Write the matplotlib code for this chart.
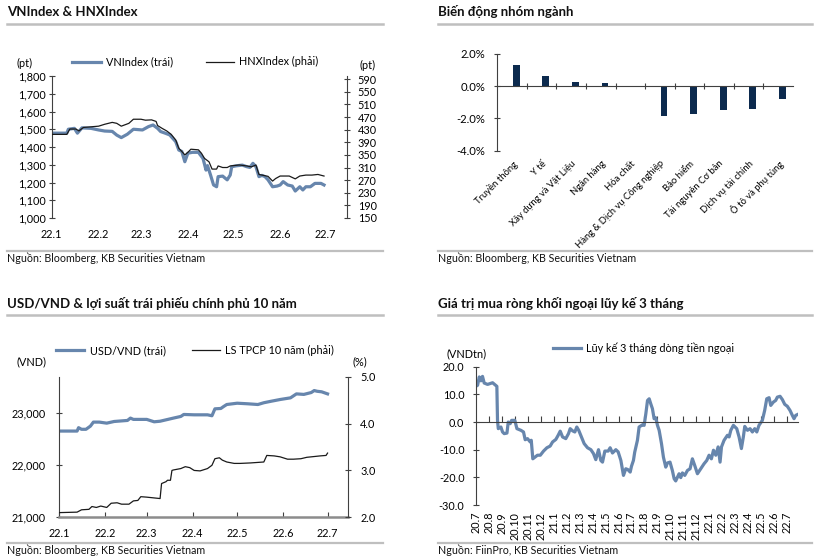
import datetime as dt
import numpy as np
import matplotlib
matplotlib.use("Agg")
import matplotlib.pyplot as plt
from matplotlib.lines import Line2D
from matplotlib.ticker import FuncFormatter

plt.rcParams['font.family'] = ['Lato', 'DejaVu Sans']

# ---------------- data ----------------
# VNIndex & HNXIndex (2022)
vn_dates = ['01-01', '01-11', '01-12', '01-16', '01-18', '01-21', '01-27', '02-01', '02-05',
            '02-10', '02-13', '02-16', '02-20', '02-24', '03-02', '03-06', '03-09', '03-12',
            '03-14', '03-17', '03-20', '03-24', '03-26', '03-28', '03-30', '04-01', '04-04',
            '04-08', '04-09', '04-11', '04-13', '04-14', '04-16', '04-18', '04-20', '04-21',
            '04-24', '04-27', '04-29', '04-30', '05-03', '05-07', '05-10', '05-12', '05-14',
            '05-16', '05-18', '05-20', '05-22', '05-24', '05-27', '05-30', '06-01', '06-03',
            '06-06', '06-09', '06-11', '06-14', '06-16', '06-18', '06-21', '06-24', '06-28',
            '06-30']
vn_values = [1478, 1478, 1500, 1505, 1478, 1508, 1505, 1496, 1490,
             1488, 1467, 1453, 1472, 1500, 1496, 1515, 1524, 1505,
             1487, 1478, 1468, 1430, 1383, 1375, 1317, 1365, 1370,
             1370, 1358, 1336, 1270, 1295, 1242, 1186, 1176, 1233,
             1236, 1215, 1242, 1289, 1294, 1298, 1289, 1285, 1308,
             1289, 1233, 1240, 1233, 1215, 1176, 1180, 1186, 1205,
             1186, 1180, 1152, 1176, 1158, 1176, 1176, 1195, 1195,
             1186]

hnx_dates = ['01-01', '01-11', '01-13', '01-17', '01-19', '01-22', '01-27', '02-01', '02-05',
             '02-10', '02-13', '02-16', '02-21', '02-24', '03-01', '03-04', '03-08', '03-11',
             '03-12', '03-15', '03-18', '03-21', '03-24', '03-26', '03-28', '03-30', '04-01',
             '04-03', '04-08', '04-10', '04-12', '04-15', '04-17', '04-20', '04-21', '04-24',
             '04-27', '04-29', '05-05', '05-10', '05-13', '05-16', '05-18', '05-21', '05-24',
             '05-27', '05-29', '06-01', '06-07', '06-11', '06-14', '06-18', '06-22', '06-26',
             '06-30']
hnx_values = [415, 415, 432, 432, 426, 437, 439, 441, 447,
              453, 450, 441, 450, 463, 463, 460, 461, 456,
              443, 434, 426, 415, 397, 371, 361, 350, 358,
              368, 366, 355, 339, 328, 305, 305, 315, 310,
              310, 315, 318, 315, 312, 318, 288, 285, 282,
              267, 275, 283, 283, 274, 283, 286, 286, 288,
              283]

# sector performance
sectors = ['Truyền thông', 'Y tế', 'Xây dựng và Vật Liệu', 'Ngân hàng', 'Hóa chất',
           'Hàng & Dịch vụ Công nghiệp', 'Bảo hiểm', 'Tài nguyên Cơ bản',
           'Dịch vụ tài chính', 'Ô tô và phụ tùng']
sector_change = [1.31, 0.64, 0.25, 0.19, 0.0, -1.87, -1.70, -1.49, -1.39, -0.81]

# USD/VND & 10Y government bond yield (2022)
usd_dates = ['01-01', '01-13', '01-14', '01-16', '01-19', '01-22', '01-24', '01-28', '02-02',
             '02-07', '02-16', '02-18', '02-20', '03-01', '03-06', '03-10', '03-19', '03-24',
             '03-26', '04-02', '04-11', '04-14', '04-16', '04-20', '04-22', '04-24', '05-01',
             '05-08', '05-15', '05-19', '05-24', '05-30', '06-06', '06-10', '06-15', '06-20',
             '06-22', '06-24', '06-27', '07-01']
usd_values = [22656, 22656, 22721, 22690, 22690, 22751, 22828, 22828, 22808,
              22840, 22860, 22905, 22880, 22880, 22834, 22845, 22905, 22937,
              22975, 22968, 22968, 22950, 23083, 23090, 23130, 23166, 23191,
              23180, 23166, 23200, 23229, 23262, 23294, 23370, 23360, 23396,
              23434, 23420, 23410, 23370]

bond_dates = ['01-01', '01-13', '01-16', '01-21', '01-23', '01-26', '01-29', '02-02', '02-05',
              '02-09', '02-12', '02-17', '02-20', '02-23', '02-25', '03-01', '03-10', '03-11',
              '03-14', '03-15', '03-17', '03-18', '03-19', '03-24', '03-27', '03-30', '04-02',
              '04-06', '04-11', '04-14', '04-16', '04-19', '04-21', '04-24', '04-29', '05-03',
              '05-10', '05-19', '05-21', '05-26', '05-30', '06-04', '06-08', '06-13', '06-17',
              '06-26', '06-30', '07-01']
bond_values = [2.10, 2.11, 2.16, 2.17, 2.23, 2.21, 2.24, 2.21, 2.30,
               2.31, 2.28, 2.28, 2.35, 2.36, 2.44, 2.43, 2.40, 2.72,
               2.76, 2.79, 2.79, 3.00, 3.01, 3.04, 3.08, 3.06, 3.00,
               2.99, 3.04, 3.11, 3.25, 3.27, 3.22, 3.18, 3.15, 3.15,
               3.16, 3.18, 3.32, 3.31, 3.29, 3.24, 3.24, 3.25, 3.28,
               3.31, 3.32, 3.37]

# foreign net buying, 3-month cumulative (months since Jul 2020)
flow_month = [0.0, 0.10, 0.23, 0.36, 0.48, 0.61, 0.87, 1.26, 1.59, 1.64, 1.70, 1.90, 2.03, 2.16,
              2.37, 2.47, 2.62, 2.73, 2.98, 3.14, 3.45, 3.65, 3.78, 3.96, 4.17, 4.25, 4.37,
              4.53, 4.73, 4.95, 5.20, 5.46, 5.71, 5.90, 6.15, 6.33, 6.49, 6.67, 6.92, 7.13,
              7.26, 7.45, 7.62, 7.77, 7.92, 8.08, 8.34, 8.60, 8.86, 9.06, 9.24, 9.45, 9.63,
              9.76, 9.94, 10.20, 10.35, 10.53, 10.79, 10.97, 11.18, 11.38, 11.56, 11.72, 11.90,
              12.00, 12.15, 12.25, 12.46, 12.59, 12.85, 12.98, 13.11, 13.24, 13.37, 13.49,
              13.62, 13.75, 13.88, 14.01, 14.14, 14.32, 14.47, 14.65, 14.78, 14.98, 15.16,
              15.30, 15.42, 15.68, 15.81, 15.94, 16.12, 16.33, 16.53, 16.71, 16.89, 17.10,
              17.36, 17.61, 17.82, 18.00, 18.18, 18.34, 18.52, 18.70, 18.85, 18.96, 19.16,
              19.42, 19.55, 19.68, 19.88, 20.14, 20.32, 20.50, 20.65, 20.76, 20.97, 21.17,
              21.35, 21.53, 21.69, 21.86, 22.12, 22.30, 22.46, 22.64, 22.77, 22.97, 23.15,
              23.28, 23.49, 23.67, 23.85, 24.05, 24.26, 24.44, 24.57, 24.70, 24.88]
flow_value = [13.0, 13.3, 16.3, 14.9, 16.5, 14.1, 13.6, 14.2, 12.9, 0.6, -2.4, -1.8, -3.6, -4.2,
              -4.0, 0.0, -0.6, 0.6, 0.6, -2.4, -3.0, -3.6, -6.4, -6.0, -7.2, -6.6, -13.3,
              -12.7, -12.0, -12.0, -10.5, -9.3, -8.7, -7.2, -6.3, -4.8, -3.3, -5.4, -6.0, -4.2,
              -2.4, -3.2, -3.6, -1.8, -3.0, -4.8, -7.8, -9.3, -10.0, -11.4, -13.6, -10.0, -13.9,
              -14.5, -10.5, -10.5, -9.3, -11.2, -10.0, -10.8, -13.9, -19.3, -16.9, -17.2, -18.1,
              -16.0, -13.9, -10.9, -6.6, -1.8, -1.0, -1.2, 3.0, 7.8, 8.4, 6.6,
              4.8, 1.2, 1.5, -1.2, -3.0, -7.8, -12.7, -16.3, -14.8, -14.5, -17.5,
              -20.5, -21.3, -18.7, -20.1, -18.4, -19.3, -17.5, -16.9, -13.3, -15.7, -18.7,
              -16.9, -15.1, -13.9, -12.0, -13.3, -10.2, -12.0, -9.0, -14.5, -9.0, -6.6,
              -4.8, -5.4, -3.0, -1.2, -2.4, -5.4, -9.6, -5.4, -1.6, -3.0, -2.4,
              -3.6, -2.4, -3.6, -1.2, 0.6, 4.2, 8.4, 8.8, 6.0, 7.2, 7.8,
              9.0, 9.3, 8.1, 6.4, 5.7, 4.2, 2.4, 1.2, 2.4, 2.8]
flow_labels = ['20.7', '20.8', '20.9', '20.10', '20.11', '20.12', '21.1', '21.2', '21.3', '21.4',
               '21.5', '21.6', '21.7', '21.8', '21.9', '21.10', '21.11', '21.12', '22.1', '22.2',
               '22.3', '22.4', '22.5', '22.6', '22.7']

month_labels = ['22.1', '22.2', '22.3', '22.4', '22.5', '22.6', '22.7']

# ---------------- style ----------------
BLUE = '#6786ad'
NAVY = '#0c2a4e'
DARK = '#1a1a1a'
SPINE = '#404040'
RULE = '#bfbfbf'
W, H = 826, 558


def to_date(s):
    m, d = s.split('-')
    return dt.date(2022, int(m), int(d))


def axes_px(fig, x0, y0, x1, y1):
    return fig.add_axes([x0 / W, 1 - y1 / H, (x1 - x0) / W, (y1 - y0) / H])


def hrule(fig, x0, x1, y, lw=1.6):
    fig.add_artist(Line2D([x0 / W, x1 / W], [1 - y / H, 1 - y / H],
                          transform=fig.transFigure, color=RULE, lw=lw))


def ftext(fig, x, y, s, **kw):
    fig.text(x / W, 1 - y / H, s, **kw)


fig = plt.figure(figsize=(W / 100, H / 100), dpi=100)

# titles, rules and sources
for x0, y, title in [(7, 12, 'VNIndex & HNXIndex'), (438, 12, 'Biến động nhóm ngành'),
                     (7, 304, 'USD/VND & lợi suất trái phiếu chính phủ 10 năm'),
                     (438, 304, 'Giá trị mua ròng khối ngoại lũy kế 3 tháng')]:
    ftext(fig, x0, y, title, fontsize=9.5, fontweight='bold', va='center', color='#111111')
for x0, x1, y in [(7, 383, 24), (438, 812, 24), (7, 383, 315), (438, 812, 315)]:
    hrule(fig, x0, x1, y, lw=1.8)
for x0, x1, y in [(7, 383, 250.5), (438, 812, 250.5), (7, 383, 542.5), (438, 812, 542.5)]:
    hrule(fig, x0, x1, y, lw=1.6)
for x0, y, src in [(7, 258.5, 'Nguồn: Bloomberg, KB Securities Vietnam'),
                   (438, 258.5, 'Nguồn: Bloomberg, KB Securities Vietnam'),
                   (7, 550, 'Nguồn: Bloomberg, KB Securities Vietnam'),
                   (438, 550, 'Nguồn: FiinPro, KB Securities Vietnam')]:
    ftext(fig, x0, y, src, fontsize=7.7, va='center', color='#111111')

start = dt.date(2022, 1, 1)
month_ticks = [dt.date(2022, m, 1) for m in range(1, 8)]
xlim = (start, start + dt.timedelta(days=195))
thousands = FuncFormatter(lambda v, p: f'{v:,.0f}')
TS = 7.8

# ---- panel 1: VNIndex & HNXIndex ----
ax1 = axes_px(fig, 51.7, 76, 346.7, 218)
ax1.plot([to_date(d) for d in vn_dates], vn_values, color=BLUE, lw=2.3, label='VNIndex (trái)')
ax1.set_ylim(1000, 1800)
ax1.set_yticks(range(1000, 1801, 100))
ax1.yaxis.set_major_formatter(thousands)
ax1.set_xlim(*xlim)
ax1.set_xticks(month_ticks)
ax1.set_xticklabels(month_labels)
ax1r = ax1.twinx()
ax1r.plot([to_date(d) for d in hnx_dates], hnx_values, color=DARK, lw=0.9, label='HNXIndex (phải)')
ax1r.set_ylim(150, 600)
ax1r.set_yticks(range(150, 591, 40))
for a in (ax1, ax1r):
    for s in ('top', 'bottom'):
        a.spines[s].set_visible(False)
    a.patch.set_visible(False)
ax1.spines['right'].set_visible(False)
ax1r.spines['left'].set_visible(False)
ax1.spines['left'].set_color(SPINE)
ax1r.spines['right'].set_color(SPINE)
ax1.tick_params(axis='y', direction='inout', length=5, width=0.8, color=SPINE, labelsize=TS, pad=1.5)
ax1r.tick_params(axis='y', direction='inout', length=5, width=0.8, color=SPINE, labelsize=TS, pad=5.5)
ax1.tick_params(axis='x', length=0, labelsize=TS, pad=8)
h1, l1 = ax1.get_legend_handles_labels()
h2, l2 = ax1r.get_legend_handles_labels()
ax1.legend(h1 + h2, l1 + l2, ncol=2, frameon=False, fontsize=TS, loc='center',
           bbox_to_anchor=(0.487, 1.10), handlelength=2.6, columnspacing=3.0, handletextpad=0.5)
ftext(fig, 25, 63, '(pt)', fontsize=TS, ha='center', va='center')
ftext(fig, 368, 65, '(pt)', fontsize=TS, ha='center', va='center')

# ---- panel 2: sector performance ----
ax2 = axes_px(fig, 497.3, 54, 793, 150.7)
pos = np.arange(len(sectors))
ax2.bar(pos + 0.64, sector_change, width=0.23, color=NAVY)
ax2.set_xlim(0, len(sectors))
ax2.set_ylim(-4, 2)
ax2.set_yticks([-4, -2, 0, 2])
ax2.yaxis.set_major_formatter(FuncFormatter(lambda v, p: f'{v:.1f}%'))
ax2.spines['bottom'].set_position(('data', 0))
for s in ('top', 'right'):
    ax2.spines[s].set_visible(False)
for s in ('left', 'bottom'):
    ax2.spines[s].set_color(SPINE)
ax2.set_xticks(pos[1:])
ax2.tick_params(axis='x', direction='inout', length=5, width=0.8, color=SPINE, labelbottom=False)
ax2.tick_params(axis='y', direction='inout', length=5, width=0.8, color=SPINE, labelsize=TS + 0.3, pad=6)
sec2 = ax2.secondary_xaxis('bottom')
sec2.set_xticks(pos + 0.5)
sec2.set_xticklabels(sectors, rotation=45, ha='right', rotation_mode='anchor', fontsize=6.8)
sec2.tick_params(length=0, pad=6)
sec2.spines['bottom'].set_visible(False)

# ---- panel 3: USD/VND & bond yield ----
ax3 = axes_px(fig, 59.3, 376.7, 348.3, 517.3)
ax3.plot([to_date(d) for d in usd_dates], usd_values, color=BLUE, lw=2.3, label='USD/VND (trái)')
ax3.set_ylim(21000, 23700)
ax3.set_yticks([21000, 22000, 23000])
ax3.yaxis.set_major_formatter(thousands)
ax3.set_xlim(*xlim)
ax3.set_xticks(month_ticks)
ax3.set_xticklabels(month_labels)
ax3r = ax3.twinx()
ax3r.plot([to_date(d) for d in bond_dates], bond_values, color=DARK, lw=0.9,
          label='LS TPCP 10 năm (phải)')
ax3r.set_ylim(2, 5)
ax3r.set_yticks([2, 3, 4, 5])
ax3r.yaxis.set_major_formatter(FuncFormatter(lambda v, p: f'{v:.1f}'))
for a in (ax3, ax3r):
    a.spines['top'].set_visible(False)
ax3.spines['right'].set_visible(False)
ax3r.spines['left'].set_visible(False)
ax3r.spines['bottom'].set_visible(False)
ax3.spines['left'].set_color(SPINE)
ax3r.spines['right'].set_color(SPINE)
ax3.spines['bottom'].set_color('#8c8c8c')
ax3.spines['bottom'].set_linewidth(1.8)
ax3.tick_params(axis='y', direction='inout', length=5, width=0.8, color=SPINE, labelsize=TS, pad=7)
ax3r.tick_params(axis='y', direction='inout', length=5, width=0.8, color=SPINE, labelsize=TS, pad=6)
ax3.tick_params(axis='x', direction='in', length=3.5, width=0.8, color=SPINE, labelsize=TS, pad=7.5)
h1, l1 = ax3.get_legend_handles_labels()
h2, l2 = ax3r.get_legend_handles_labels()
ax3.legend(h1 + h2, l1 + l2, ncol=2, frameon=False, fontsize=TS, loc='center',
           bbox_to_anchor=(0.47, 1.185), handlelength=2.6, columnspacing=2.4, handletextpad=0.5)
ftext(fig, 31, 362, '(VND)', fontsize=TS, ha='center', va='center')
ftext(fig, 360, 362, '(%)', fontsize=TS, ha='center', va='center')

# ---- panel 4: foreign net buying ----
ax4 = axes_px(fig, 476.3, 366.7, 798.3, 505)
ax4.plot(flow_month, flow_value, color=BLUE, lw=2.3, label='Lũy kế 3 tháng dòng tiền ngoại')
ax4.set_xlim(0, 24.9)
ax4.set_ylim(-30, 20)
ax4.set_yticks(range(-30, 21, 10))
ax4.yaxis.set_major_formatter(FuncFormatter(lambda v, p: f'{v:.1f}'))
ax4.spines['bottom'].set_position(('data', 0))
for s in ('top', 'right'):
    ax4.spines[s].set_visible(False)
for s in ('left', 'bottom'):
    ax4.spines[s].set_color(SPINE)
ax4.set_xticks(range(1, len(flow_labels)))
ax4.tick_params(axis='x', direction='in', length=4, width=0.8, color=SPINE, labelbottom=False)
ax4.tick_params(axis='y', direction='inout', length=5, width=0.8, color=SPINE, labelsize=TS, pad=6)
sec4 = ax4.secondary_xaxis('bottom')
sec4.set_xticks(range(len(flow_labels)))
sec4.set_xticklabels(flow_labels, rotation=90, fontsize=TS)
sec4.tick_params(length=0, pad=5)
sec4.spines['bottom'].set_visible(False)
ax4.legend(frameon=False, fontsize=TS, loc='center', bbox_to_anchor=(0.52, 1.135),
           handlelength=2.6, handletextpad=0.5)
ftext(fig, 467, 354, '(VNDtn)', fontsize=TS, ha='center', va='center')

fig.savefig('out.png', dpi=100)
